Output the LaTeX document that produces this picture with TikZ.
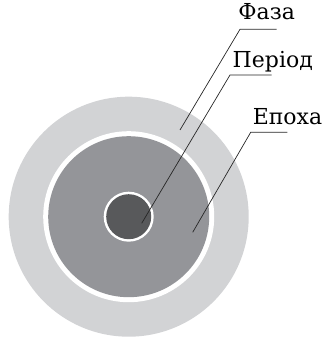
\documentclass[tikz,border=0pt]{standalone}
\usepackage{fontspec}
\setmainfont{DejaVu Serif}
\definecolor{faza}{RGB}{210,211,213}
\definecolor{epoha}{RGB}{148,149,153}
\definecolor{period}{RGB}{88,89,91}
\tikzset{
  lbl/.style={anchor=base, font=\fontsize{22}{26}\selectfont, inner sep=0pt},
  leader/.style={line width=0.7pt, black!85}
}
\begin{document}
\begin{tikzpicture}[x=1pt, y=1pt]
    \useasboundingbox (0,0) rectangle (327,339);
    % кола
    \coordinate (c) at (128.7,122.3);
    \fill[faza] (c) circle (120);
    \fill[white] (c) circle (85.5);
    \fill[epoha] (c) circle (80.5);
    \fill[white] (c) circle (25);
    \fill[period] (c) circle (22.5);
    % Фаза
    \node[lbl] (faza) at (266.7,319) {Фаза};
    \coordinate (faza-pt) at (180,209);
    \coordinate (faza-k) at (240,309.7);
    \coordinate (faza-e) at (276.7,309.7);
    \draw[leader] (faza-pt) -- (faza-k) -- (faza-e);
    % Період
    \node[lbl] (period) at (272.8,271.3) {Період};
    \coordinate (period-pt) at (141.7,115.7);
    \coordinate (period-k) at (230,264);
    \coordinate (period-e) at (271.7,264);
    \draw[leader] (period-pt) -- (period-k) -- (period-e);
    % Епоха
    \node[lbl] (epoha) at (287.5,214.7) {Епоха};
    \coordinate (epoha-pt) at (192.7,106.7);
    \coordinate (epoha-k) at (250.7,206.7);
    \coordinate (epoha-e) at (287.3,206.7);
    \draw[leader] (epoha-pt) -- (epoha-k) -- (epoha-e);
\end{tikzpicture}
\end{document}
